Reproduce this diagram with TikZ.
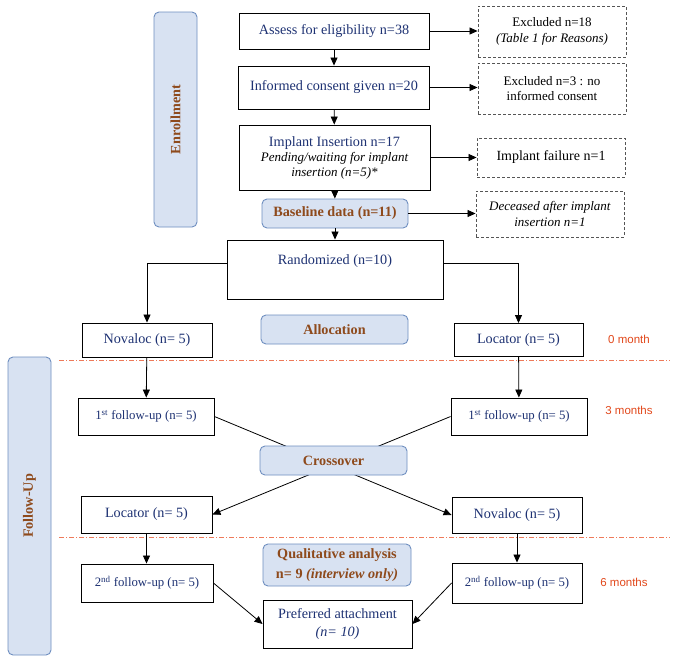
\documentclass[tikz,border=0pt]{standalone}
\usepackage{fontspec}
\setmainfont{Liberation Serif}
\newfontfamily\sansf{Liberation Sans}
\usetikzlibrary{arrows.meta,backgrounds}
\definecolor{navy}{HTML}{1E3273}
\definecolor{brownc}{HTML}{8E4A1C}
\definecolor{phasefill}{HTML}{D8E2F2}
\definecolor{phaseborder}{HTML}{6F8FC0}
\definecolor{redc}{HTML}{E2481B}
\definecolor{sepc}{HTML}{EE7A5A}
\definecolor{dashc}{HTML}{555555}
\newcommand\fsmain{\fontsize{14.2}{16.5}\selectfont}
\newcommand\fssmall{\fontsize{13}{15.5}\selectfont}
\newcommand\fsfu{\fontsize{12.8}{15}\selectfont}
\begin{document}
\begin{tikzpicture}[x=1pt,y=-1pt,
  box/.style={draw=black, line width=0.9pt, fill=white, inner sep=0pt, align=center, text=navy, font=\fsmain},
  exbox/.style={draw=dashc, line width=0.9pt, dash pattern=on 3pt off 2pt, fill=white, inner sep=0pt, align=center, font=\fssmall},
  phase/.style={draw=phaseborder, fill=phasefill, rounded corners=5pt, line width=0.9pt, text=brownc, font=\fsmain\bfseries, inner sep=0pt, align=center},
  arr/.style={-{Triangle[length=8pt,width=7pt]}, line width=0.8pt},
  ln/.style={line width=0.8pt},
  sep/.style={draw=sepc, line width=0.8pt, dash pattern=on 5pt off 2pt on 1pt off 2pt},
  tlab/.style={text=redc, font=\sansf\fontsize{11.5}{13}\selectfont, inner sep=0pt}
]
\useasboundingbox (0,0) rectangle (673,662);

% side phase boxes
\node[phase, rotate=90, minimum width=215pt, minimum height=43pt] (enroll) at (175.5,119.5) {Enrollment};
\node[phase, rotate=90, minimum width=298pt, minimum height=43pt] (followup) at (29.5,506) {Follow-Up};

% enrollment column
\node[box, minimum width=190pt, minimum height=36pt] (assess) at (334,31) {Assess for eligibility n=38};
\node[box, minimum width=191pt, minimum height=43pt] (consent) at (334,87.5) {Informed consent given n=20};
\node[box, minimum width=191pt, minimum height=65pt] (implant) at (334.5,157.5) {Implant Insertion n=17\\[-1.5pt]
  \color{black}\fssmall\itshape Pending/waiting for implant\\[-1.5pt]
  \color{black}\fssmall\itshape insertion (n=5)*};
\node[phase, minimum width=146pt, minimum height=29pt] (baseline) at (335,213.5) {Baseline data (n=11)};
\node[box, minimum width=216pt, minimum height=59pt] (rand) at (335,269.5) {};
\node[text=navy, font=\fsmain, inner sep=0pt] (randtxt) at (335,261) {Randomized (n=10)};

% exclusion boxes
\node[exbox, minimum width=148pt, minimum height=51pt] (excl1) at (552,31.5) {Excluded n=18\\ \textit{(Table 1 for Reasons)}};
\node[exbox, minimum width=148pt, minimum height=51pt] (excl2) at (552,88.5) {Excluded n=3 : no\\ informed consent};
\node[exbox, minimum width=148pt, minimum height=39pt, font=\fontsize{14}{16}\selectfont] (fail) at (551,157.5) {Implant failure n=1};
\node[exbox, minimum width=148pt, minimum height=46pt] (deceased) at (550,214) {\textit{Deceased after implant}\\ \textit{insertion n=1}};

% allocation
\node[phase, minimum width=147pt, minimum height=29pt] (alloc) at (334.5,329.5) {Allocation};
\node[box, minimum width=130pt, minimum height=34pt] (nov1) at (147,340) {Novaloc (n= 5)};
\node[box, minimum width=129pt, minimum height=33pt] (loc1) at (518.5,340) {Locator (n= 5)};

% first follow-up
\node[box, minimum width=136pt, minimum height=37pt, font=\fsfu] (fu1L) at (146,416.5) {1\textsuperscript{st} follow-up (n= 5)};
\node[box, minimum width=136pt, minimum height=37pt, font=\fsfu] (fu1R) at (519,416.5) {1\textsuperscript{st} follow-up (n= 5)};
\node[phase, minimum width=147pt, minimum height=29pt] (cross) at (333.5,460.5) {Crossover};

% after crossover
\node[box, minimum width=131pt, minimum height=37pt] (loc2) at (146.5,514.5) {Locator (n= 5)};
\node[box, minimum width=130pt, minimum height=36pt] (nov2) at (517,515) {Novaloc (n= 5)};
\node[phase, minimum width=148pt, minimum height=42pt, font=\fontsize{14.2}{20}\selectfont\bfseries] (qual) at (337,565) {Qualitative analysis\\ n= 9 \textit{(interview only)}};
\node[box, minimum width=132pt, minimum height=38pt, font=\fsfu] (fu2L) at (147,583) {2\textsuperscript{nd} follow-up (n= 5)};
\node[box, minimum width=130pt, minimum height=40pt, font=\fsfu] (fu2R) at (517,583) {2\textsuperscript{nd} follow-up (n= 5)};
\node[box, minimum width=149pt, minimum height=48pt, font=\fontsize{14.2}{18}\selectfont] (pref) at (337.5,624) {Preferred attachment\\ \textit{(n= 10)}};

% time labels
\node[tlab] (t0) at (629,339) {0 month};
\node[tlab] (t3) at (629,410) {3 months};
\node[tlab] (t6) at (624,582) {6 months};

% separators
\coordinate (s1a) at (59,360);
\coordinate (s1b) at (670,360);
\coordinate (s2a) at (59,537);
\coordinate (s2b) at (670,537);

\begin{scope}[on background layer]
\fill[white] (0,0) rectangle (673,662);
\draw[sep] (s1a) -- (s1b);
\draw[sep] (s2a) -- (s2b);
\draw[arr] (fu1L.east) -- (nov2.west);
\draw[arr] (fu1R.west) -- (loc2.east);
\end{scope}

% connectors
\draw[arr] (assess) -- (consent);
\draw[arr] (consent) -- (implant);
\draw[arr] (implant) -- (baseline);
\draw[arr] (baseline) -- (rand);
\draw[arr] (assess.east) -- (excl1.west |- assess.east);
\draw[arr] (consent.east) -- (excl2.west |- consent.east);
\draw[arr] (implant.east) -- (fail.west |- implant.east);
\draw[arr] (baseline.east) -- (deceased.west |- baseline.east);
\draw[arr] ([yshift=6.5pt]rand.west) -| (nov1.north);
\draw[arr] ([yshift=6.5pt]rand.east) -| (loc1.north);
\draw[arr] (nov1) -- (fu1L);
\draw[arr] (loc1) -- (fu1R);
\draw[arr] (loc2.south) -- (loc2.south |- fu2L.north);
\draw[arr] (nov2) -- (fu2R);
\draw[arr] (fu2L.east) -- (pref.west);
\draw[arr] (fu2R.west) -- (pref.east);
\end{tikzpicture}
\end{document}
